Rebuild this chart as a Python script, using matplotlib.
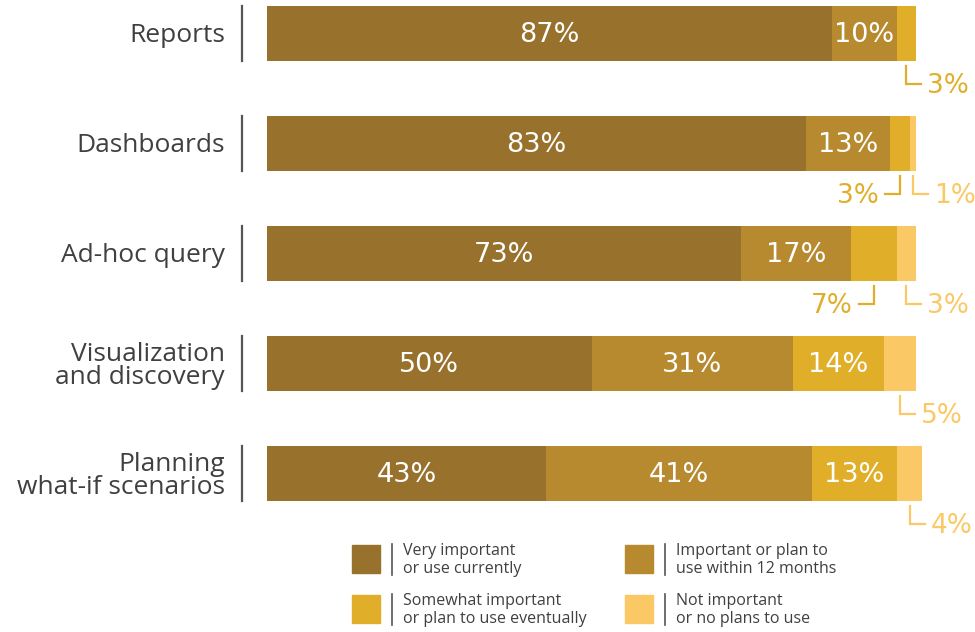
import matplotlib

matplotlib.use("Agg")
import matplotlib.pyplot as plt
from matplotlib.lines import Line2D
from matplotlib.patches import Rectangle

# survey shares per capability, in percent
categories = ["Reports", "Dashboards", "Ad-hoc query",
              "Visualization\nand discovery", "Planning\nwhat-if scenarios"]
very_important = [87, 83, 73, 50, 43]
important_12m = [10, 13, 17, 31, 41]
somewhat = [3, 3, 7, 14, 13]
not_important = [0, 1, 3, 5, 4]

series = [very_important, important_12m, somewhat, not_important]
series_labels = ["Very important\nor use currently",
                 "Important or plan to\nuse within 12 months",
                 "Somewhat important\nor plan to use eventually",
                 "Not important\nor no plans to use"]
colors = ["#98722D", "#B78A30", "#E0AE28", "#FAC865"]

W, H = 975, 632
X0, PX_PER_PCT = 267, 6.49       # bar origin and scale in pixels
ROW0, PITCH, BAR_H = 33.5, 110, 55
NUM_FONT = ["DejaVu Sans"]

plt.rcParams["font.family"] = ["Open Sans", "DejaVu Sans"]

fig = plt.figure(figsize=(W / 100, H / 100), dpi=100)
ax = fig.add_axes([0, 0, 1, 1])
ax.set_xlim(-X0 / PX_PER_PCT, (W - X0) / PX_PER_PCT)
ax.set_ylim(H, 0)
ax.axis("off")

px = PX_PER_PCT  # pixels per percent, for pixel offsets along x


def bracket(xc, y_top, y_bot, side, color):
    # small elbow leader from a thin segment down to its label
    dx = 15 / px
    xs = [xc, xc, xc + dx] if side == "right" else [xc, xc, xc - dx]
    ax.add_line(Line2D(xs, [y_top, y_bot, y_bot], color=color, lw=1.6,
                       solid_joinstyle="miter"))


for i, cat in enumerate(categories):
    yc = ROW0 + i * PITCH
    vals = [s[i] for s in series]
    left = 0
    lefts = []
    for v, c in zip(vals, colors):
        lefts.append(left)
        if v > 0:
            ax.barh(yc, v, left=left, height=BAR_H, color=c, edgecolor="none")
        left += v

    # labels inside bars, or leader callouts for thin segments
    small = [v > 0 and v < 10 for v in vals]
    bot = yc + BAR_H / 2
    for k, (v, l0) in enumerate(zip(vals, lefts)):
        if v <= 0:
            continue
        mid = l0 + v / 2
        if not small[k]:
            ax.text(mid, yc + 1, f"{v}%", color="white", fontsize=19.5,
                    family=NUM_FONT, ha="center", va="center")
            continue
        side = "left" if k + 1 < len(vals) and small[k + 1] else "right"
        bracket(mid, bot + 5, bot + 23, side, colors[k])
        if side == "right":
            ax.text(mid + 21 / px, bot + 25, f"{v}%", color=colors[k],
                    fontsize=19, family=NUM_FONT, ha="left", va="center")
        else:
            ax.text(mid - 21 / px, bot + 25, f"{v}%", color=colors[k],
                    fontsize=19, family=NUM_FONT, ha="right", va="center")

    # category label and divider
    ax.text(-(X0 - 225) / px, yc + 2.5, cat, color="#404040", fontsize=19,
            ha="right", va="center", linespacing=0.85)
    ax.add_line(Line2D([-(X0 - 242) / px] * 2, [yc - BAR_H / 2, yc + BAR_H / 2],
                       color="#555555", lw=1.6))


def fig_xy(x, y):
    return x / W, 1 - y / H


# legend, two columns by two rows
leg_pos = [(352, 545), (625, 545), (352, 595), (625, 595)]
for (lx, ly), lab, c in zip(leg_pos, series_labels, colors):
    fx, fy = fig_xy(lx, ly + 28)
    fig.patches.append(Rectangle((fx, fy), 28 / W, 28 / H, color=c,
                                 transform=fig.transFigure))
    fig.add_artist(Line2D([(lx + 40) / W] * 2, [1 - (ly - 1) / H, 1 - (ly + 30) / H],
                          color="#555555", lw=1.2, transform=fig.transFigure))
    fig.text((lx + 51) / W, 1 - (ly + 15) / H, lab, color="#404040", fontsize=11.5,
             ha="left", va="center", linespacing=1.1)

fig.savefig("out.png", dpi=100)
